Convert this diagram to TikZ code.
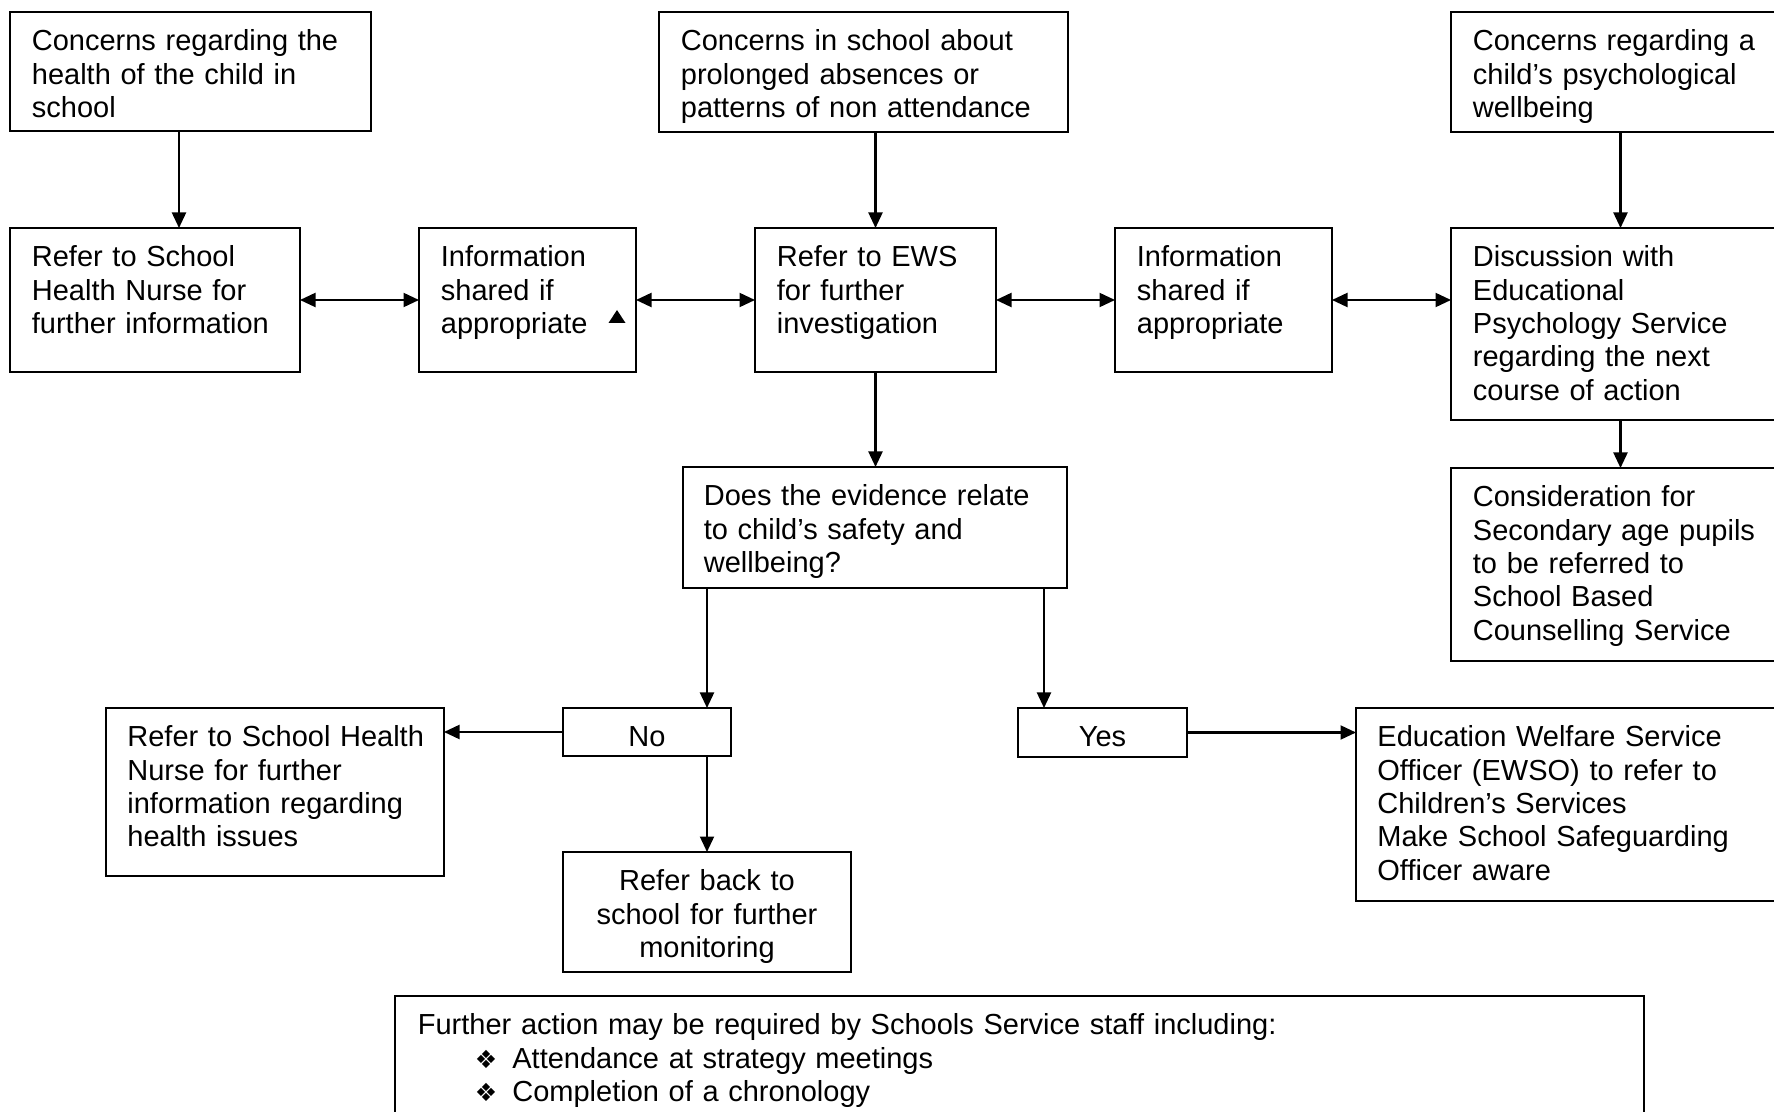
\documentclass[tikz,border=0pt]{standalone}
\usepackage{fontspec}
\setmainfont{Liberation Sans}
\newfontfamily\symfont{DejaVu Sans}
\usetikzlibrary{arrows.meta,calc,fit}
\newcommand{\dingbullet}{\makebox[47.25pt][l]{\hspace*{28.5pt}{\symfont\fontsize{12.5pt}{12.5pt}\selectfont ❖}}}
\begin{document}
\begin{tikzpicture}[x=0.5pt,y=-0.5pt,
  box/.style={draw, line width=1pt, inner sep=0pt, outer sep=0pt},
  txt/.style={anchor=north west, inner sep=0pt, align=left, text width=#1,
    font=\fontsize{14.5pt}{16.7pt}\selectfont, execute at begin node=\strut},
  txt/.default=200pt,
  ctxt/.style={anchor=north, inner sep=0pt, align=center, text width=#1,
    font=\fontsize{14.5pt}{16.7pt}\selectfont, execute at begin node=\strut},
  tip/.tip={Triangle[length=7.75pt,width=7pt]},
  arr/.style={line width=1.05pt, -tip},
  darr/.style={line width=1.05pt, tip-tip}]

\path[use as bounding box, clip] (0,0) rectangle (1774,1112);
\fill[white] (0,0) rectangle (1774,1112);

% top row
\node[box, fit={(10,12) (371,131)}] (A) {};
\node[box, fit={(659,12) (1068,132)}] (D) {};
\node[box, fit={(1451,12) (1792,132)}] (G) {};

% second row
\node[box, fit={(10,228) (300,372)}] (B) {};
\node[box, fit={(419,228) (636,372)}] (C) {};
\node[box, fit={(755,228) (996,372)}] (E) {};
\node[box, fit={(1115,228) (1332,372)}] (F) {};
\node[box, fit={(1451,228) (1792,420)}] (H) {};
\node[box, fit={(1451,468) (1792,661)}] (I) {};

% decision and outcomes
\node[box, fit={(683,467) (1067,588)}] (Q) {};
\node[box, fit={(563,708) (731,756)}] (No) {};
\node[box, fit={(1018,708) (1187,757)}] (Yes) {};
\node[box, fit={(106,708) (444,876)}] (L) {};
\node[box, fit={(563,852) (851,972)}] (R) {};
\node[box, fit={(1356,708) (1792,901)}] (W) {};
\node[box, fit={(395,996) (1644,1150)}] (BT) {};

% texts
\node[txt] (At) at ($(A.north west)+(21.5,15)$) {Concerns regarding the\\health of the child in\\school};
\node[txt] (Dt) at ($(D.north west)+(21.5,15)$) {Concerns in school about\\prolonged absences or\\patterns of non attendance};
\node[txt] (Gt) at ($(G.north west)+(21.5,15)$) {Concerns regarding a\\child’s psychological\\wellbeing};
\node[txt] (Bt) at ($(B.north west)+(21.5,15)$) {Refer to School\\Health Nurse for\\further information};
\node[txt] (Ct) at ($(C.north west)+(21.5,15)$) {Information\\shared if\\appropriate};
\node[txt] (Et) at ($(E.north west)+(21.5,15)$) {Refer to EWS\\for further\\investigation};
\node[txt] (Ft) at ($(F.north west)+(21.5,15)$) {Information\\shared if\\appropriate};
\node[txt] (Ht) at ($(H.north west)+(21.5,15)$) {Discussion with\\Educational\\Psychology Service\\regarding the next\\course of action};
\node[txt] (It) at ($(I.north west)+(21.5,15)$) {Consideration for\\Secondary age pupils\\to be referred to\\School Based\\Counselling Service};
\node[txt] (Qt) at ($(Q.north west)+(20.5,15)$) {Does the evidence relate\\to child’s safety and\\wellbeing?};
\node[ctxt=84pt] (Not) at ($(No.north)+(0,15)$) {No};
\node[ctxt=84.5pt] (Yest) at ($(Yes.north)+(0,15)$) {Yes};
\node[txt] (Lt) at ($(L.north west)+(21,15)$) {Refer to School Health\\Nurse for further\\information regarding\\health issues};
\node[ctxt=144pt] (Rt) at ($(R.north)+(0,15)$) {Refer back to\\school for further\\monitoring};
\node[txt] (Wt) at ($(W.north west)+(21,15)$) {Education Welfare Service\\Officer (EWSO) to refer to\\Children’s Services\\Make School Safeguarding\\Officer aware};
\node[txt=600pt] (BTt) at ($(BT.north west)+(22.5,15)$) {Further action may be required by Schools Service staff including:\\
  \dingbullet Attendance at strategy meetings\\
  \dingbullet Completion of a chronology};

% small marker inside the left information box
\fill (608.5,323) -- (625.5,323) -- (617,310) -- cycle;

% connectors
\coordinate (ab) at (179,0);
\coordinate (gh) at (1620.5,0);
\coordinate (qy) at (1044,0);
\draw[arr] (A.south -| ab) -- (B.north -| ab);
\draw[arr] (D.south -| E.north) -- (E.north);
\draw[arr] (G.south -| gh) -- (H.north -| gh);
\draw[arr] (H.south -| gh) -- (I.north -| gh);
\draw[darr] (B.east) -- (C.west);
\draw[darr] (C.east) -- (E.west);
\draw[darr] (E.east) -- (F.west);
\draw[darr] (F.east) -- (F.east -| H.west);
\draw[arr] (E.south) -- (E.south |- Q.north);
\draw[arr] (Q.south -| R.north) -- (No.north -| R.north);
\draw[arr] (Q.south -| qy) -- (Yes.north -| qy);
\draw[arr] (No.west) -- (No.west -| L.east);
\draw[arr] (No.south -| R.north) -- (R.north);
\draw[arr] (Yes.east) -- (Yes.east -| W.west);
\end{tikzpicture}
\end{document}
